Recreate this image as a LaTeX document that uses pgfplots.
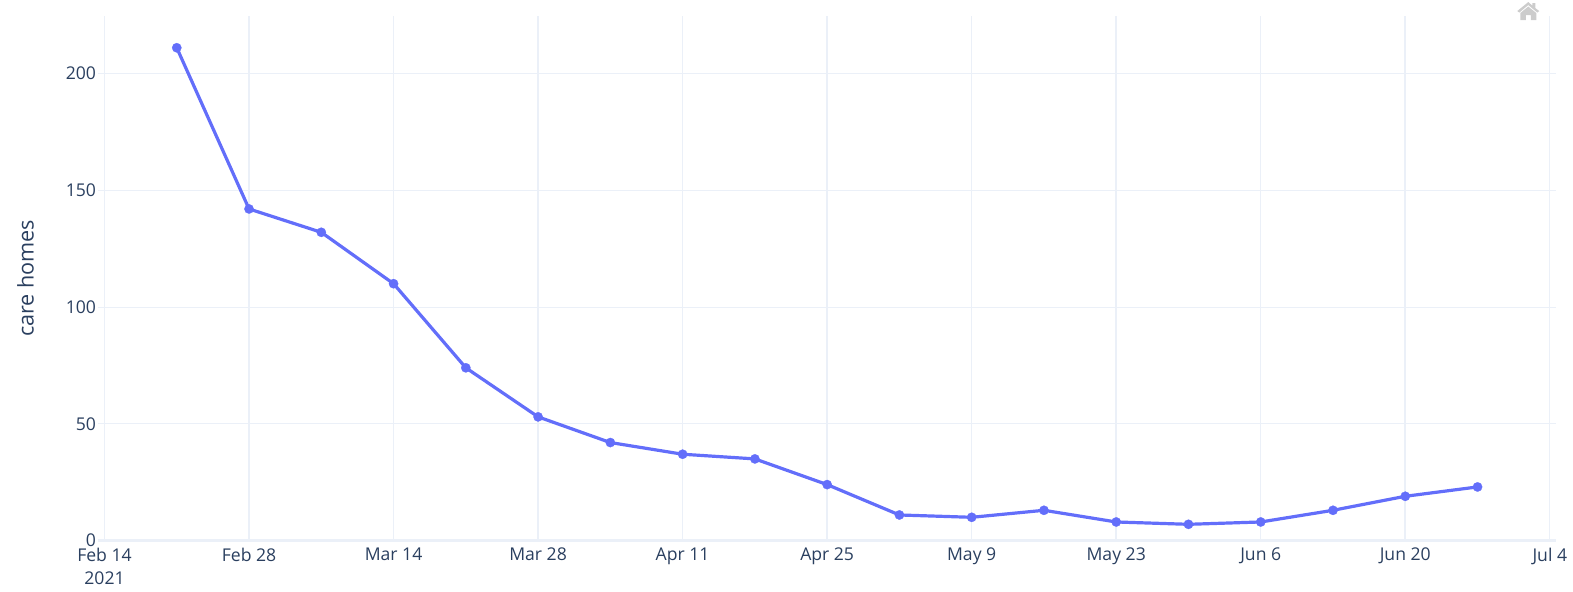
\documentclass[border=0pt]{standalone}
\usepackage{fontspec}
\setmainfont{Open Sans}
\usepackage{pgfplots}
\pgfplotsset{compat=1.18}
\definecolor{gridc}{HTML}{EBF0F8}
\definecolor{linec}{HTML}{636EFA}
\definecolor{textc}{HTML}{2A3F5F}
\begin{document}
\begin{tikzpicture}
\path (0pt,0pt) rectangle (1179.75pt,444pt);
\begin{axis}[
  at={(73.5pt,38.5pt)}, anchor=south west,
  scale only axis,
  width=1093.5pt, height=393.5pt,
  xmin=-0.63, xmax=140.6, ymin=0, ymax=224.6,
  axis line style={draw=none},
  tick style={draw=none},
  clip=false,
  grid=major,
  grid style={draw=gridc, line width=0.8pt},
  xtick={0,14,28,42,56,70,84,98,112,126,140},
  xticklabels={{Feb 14\\2021},Feb 28,Mar 14,Mar 28,Apr 11,Apr 25,May 9,May 23,Jun 6,Jun 20,Jul 4},
  extra x ticks={14,42,70,98,126},
  extra x tick labels={},
  extra x tick style={grid style={draw=gridc, line width=1.7pt}},
  ytick={0,50,100,150,200},
  extra y ticks={0},
  extra y tick labels={},
  extra y tick style={grid style={draw=gridc, line width=2pt}},
  /pgf/number format/assume math mode=true,
  tick label style={font=\fontsize{13.2}{17.4}\selectfont, text=textc},
  xticklabel style={align=center, anchor=north, yshift=-2pt},
  yticklabel style={anchor=east, xshift=2pt},
  ylabel={care homes},
  ylabel style={font=\fontsize{16.2}{18}\selectfont, text=textc, at={(rel axis cs:0,0.5)}, anchor=south, xshift=0pt, yshift=44.5pt},
]
\addplot[color=linec, line width=2.4pt, line join=round, mark=*, mark size=3.5pt,
  mark options={draw=linec, fill=linec, line width=0.2pt, solid}] table {
x y
7 211
14 142
21 132
28 110
35 74
42 53
49 42
56 37
63 35
70 24
77 11
84 10
91 13
98 8
105 7
112 8
119 13
126 19
133 23
};
\end{axis}
% home icon of the chart toolbar
\begin{scope}[x=0.75pt,y=-0.75pt,shift={(3.2pt,444.7pt)}]
\fill[black!20] (1513,12) -- (1524,3) -- (1528,6.5) -- (1528,4) -- (1531,4) -- (1531,9) -- (1535,12) -- (1533,13.5) -- (1524,6) -- (1515,13.5) -- cycle;
\fill[black!20] (1516,14) -- (1524,7.5) -- (1532,14) -- (1532,21) -- (1526.5,21) -- (1526.5,16) -- (1521.5,16) -- (1521.5,21) -- (1516,21) -- cycle;
\end{scope}
\end{tikzpicture}
\end{document}
